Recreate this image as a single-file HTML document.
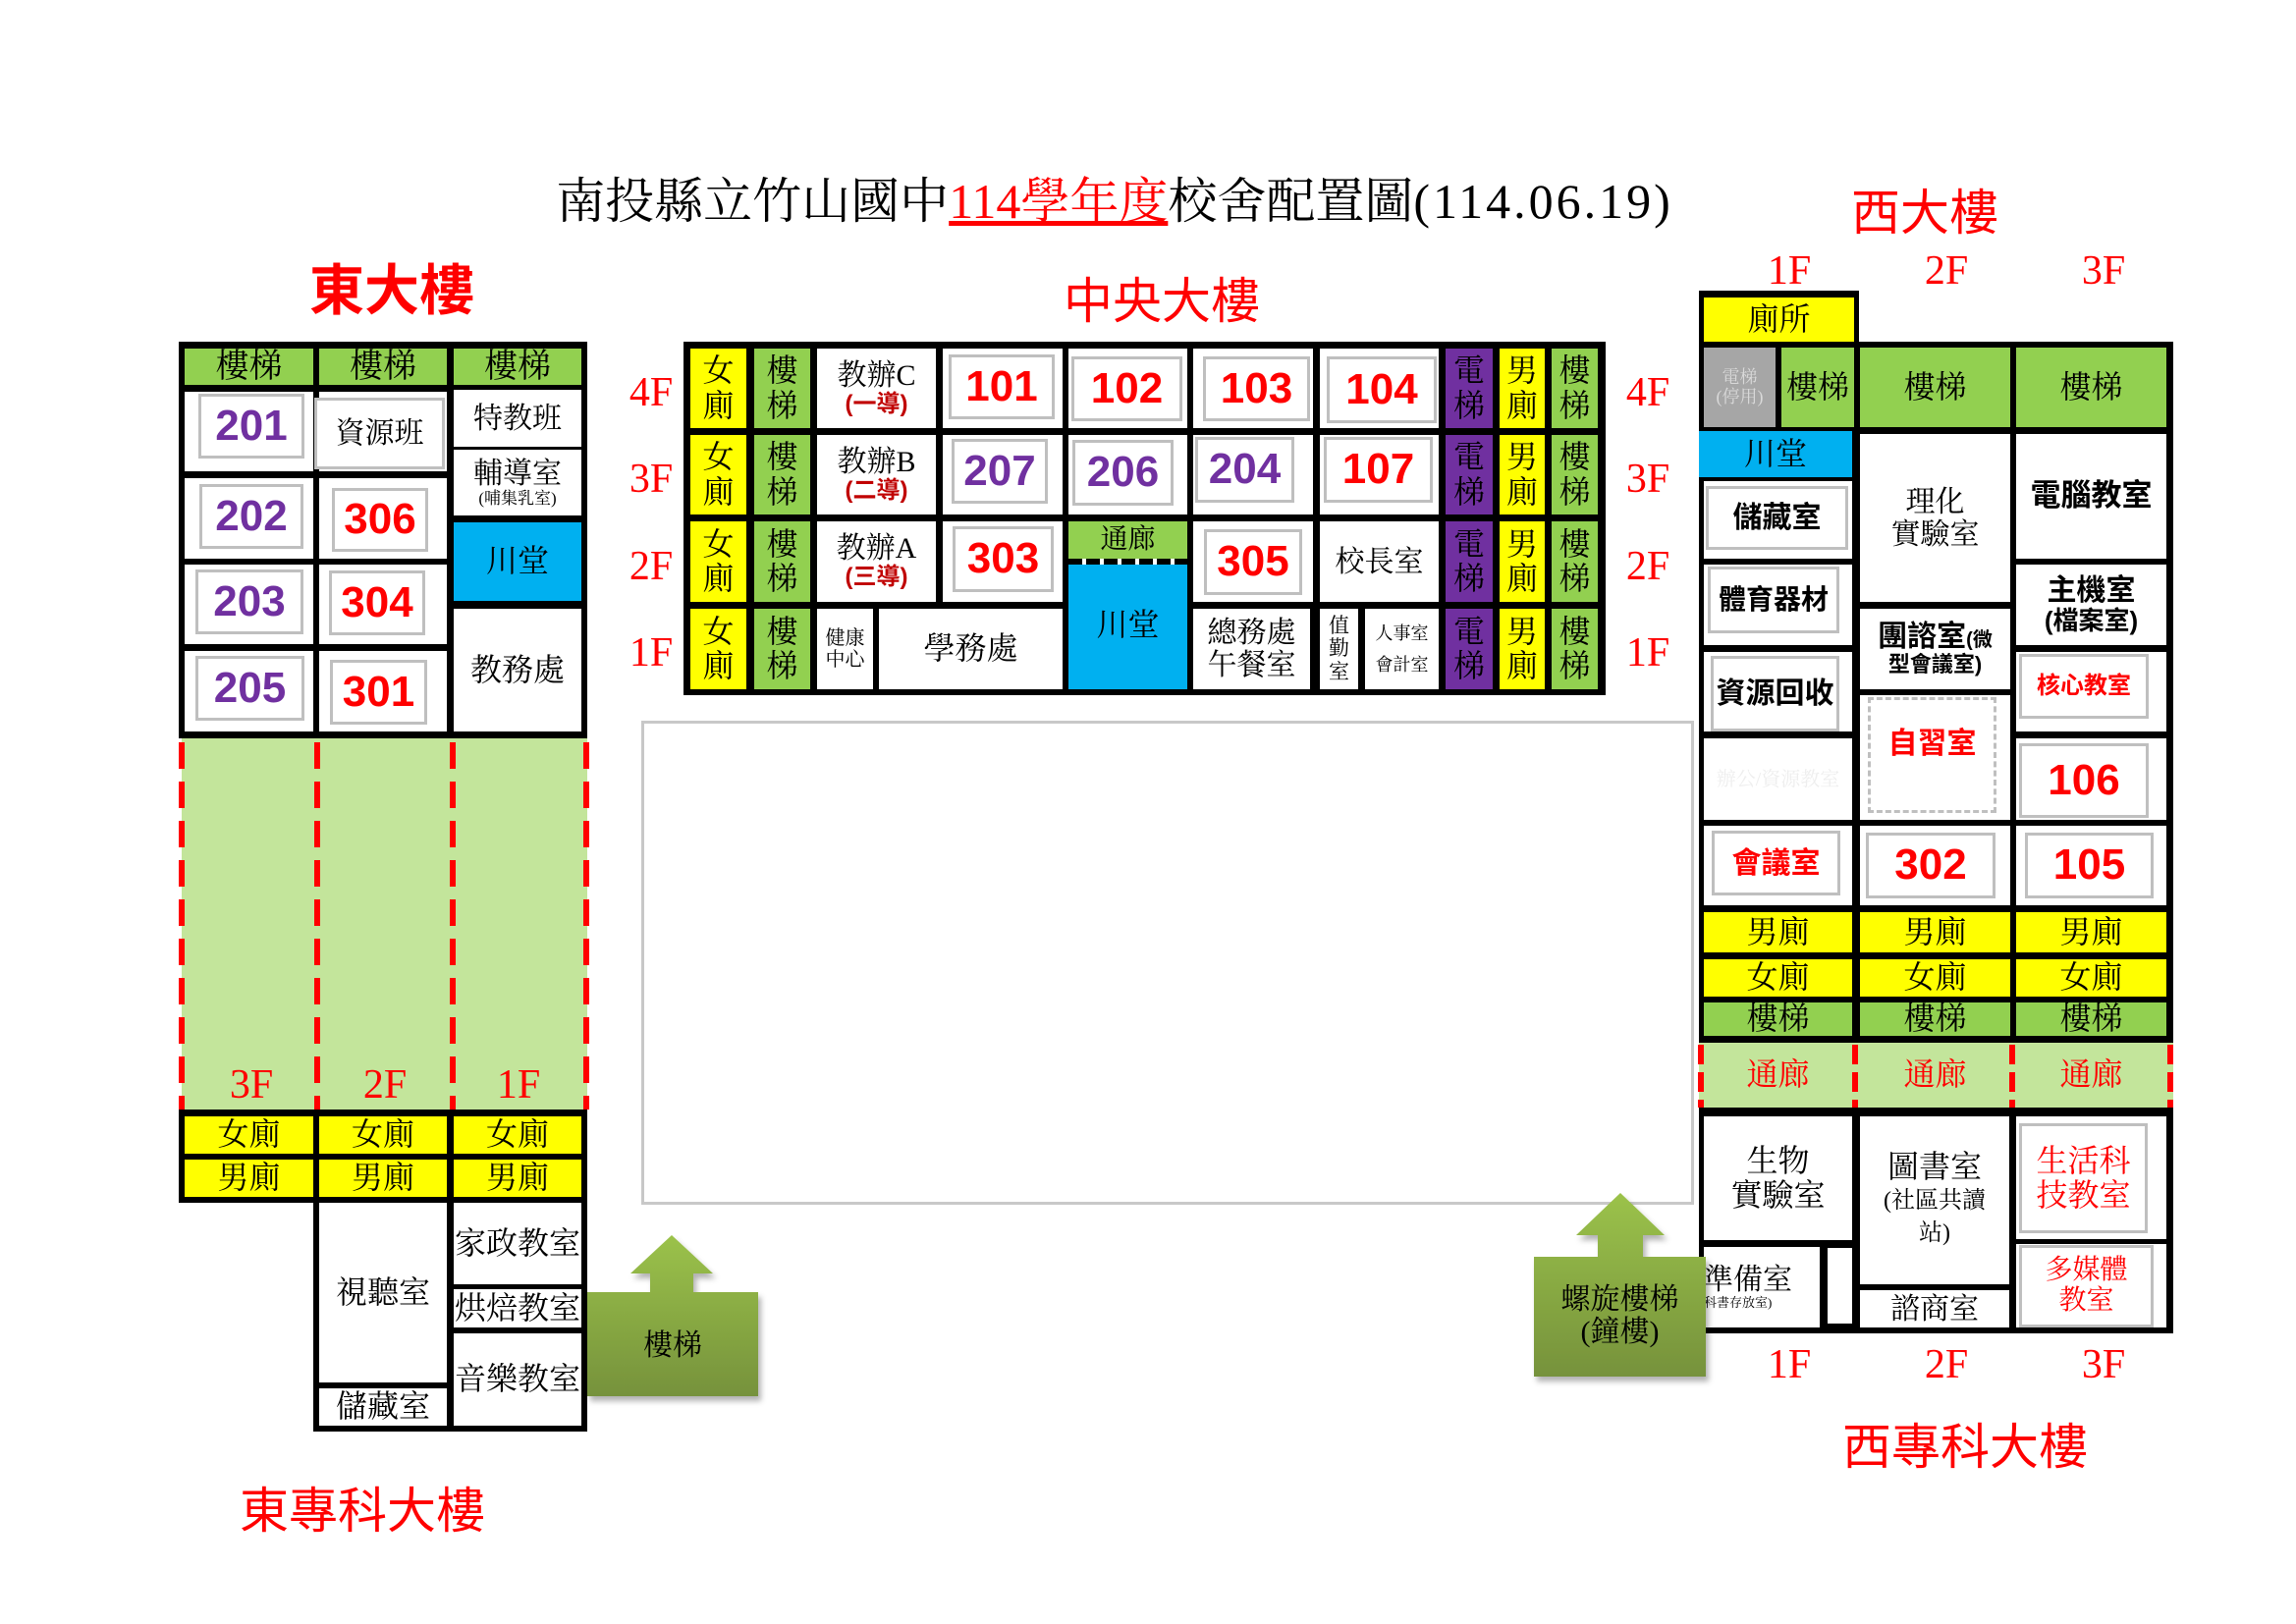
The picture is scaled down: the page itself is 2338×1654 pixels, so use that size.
<!DOCTYPE html>
<html><head><meta charset="utf-8"><style>
body{margin:0;background:#fff}
#p{position:relative;width:2338px;height:1654px;overflow:hidden;background:#fff}
.a{position:absolute;display:flex;flex-direction:column;align-items:center;justify-content:center;text-align:center;font-family:"Liberation Serif","Noto Serif CJK SC",serif;line-height:1.1;color:#000;box-sizing:border-box;white-space:nowrap}
.k{position:absolute;background:#000}
.g{background:#92d050}.y{background:#ffff00}.bl{background:#00b0f0}.pu{background:#7030a0}.w{background:#fff}.lg{background:#c3e59b}
.bx{border:3px solid #bfbfbf}
.n{font-family:"Liberation Sans",sans-serif;font-weight:bold;font-size:44px}
.P{color:#7030a0}.R{color:#ff0000}
.bd{font-family:"Liberation Sans","Noto Sans CJK SC",sans-serif;font-weight:bold}
.lab{position:absolute;font-family:"Liberation Sans","Noto Sans CJK SC",sans-serif;color:#ff0000;font-size:50px;font-weight:bold;transform:translate(-50%,-50%);white-space:nowrap}
.fl{position:absolute;font-family:"Liberation Serif",serif;color:#ff0000;font-size:42px;transform:translate(-50%,-50%)}
.dv{position:absolute;width:6px;background:repeating-linear-gradient(#ff0000 0 27px,transparent 27px 40px)}
</style></head><body><div id="p">

<div class="a" style="left:560px;top:175px;width:1150px;height:60px;font-size:50px;flex-direction:row">南投縣立竹山國中<span style="color:#ff0000;text-decoration:underline">114學年度</span>校舍配置圖<span style="letter-spacing:3px">(114.06.19)</span></div>
<div class="lab" style="left:399px;top:292px;font-size:56px">東大樓</div>
<div class="lab" style="left:1183px;top:303px;font-weight:normal">中央大樓</div>
<div class="lab" style="left:1960px;top:213px;font-weight:normal">西大樓</div>
<div class="lab" style="left:369px;top:1535px;font-weight:normal">東專科大樓</div>
<div class="lab" style="left:2001px;top:1470px;font-weight:normal">西專科大樓</div>

<!-- EAST -->
<div class="k" style="left:182px;top:348px;width:416px;height:404px"></div>
<div class="a g" style="left:188px;top:355px;width:131px;height:37px;font-size:34px">樓梯</div>
<div class="a g" style="left:325px;top:355px;width:130px;height:37px;font-size:34px">樓梯</div>
<div class="a g" style="left:462px;top:355px;width:130px;height:37px;font-size:34px">樓梯</div>
<div class="a w" style="left:188px;top:399px;width:131px;height:81px"></div>
<div class="a bx n P" style="left:202px;top:401px;width:108px;height:66px">201</div>
<div class="a w" style="left:325px;top:399px;width:130px;height:81px"></div>
<div class="a bx w" style="left:320px;top:405px;width:133px;height:73px;font-size:30px">資源班</div>
<div class="a w" style="left:462px;top:397px;width:130px;height:58px;font-size:30px">特教班</div>
<div class="a w" style="left:462px;top:458px;width:130px;height:67px;font-size:30px">輔導室<span style="font-size:17px">(哺集乳室)</span></div>
<div class="a bl" style="left:462px;top:532px;width:130px;height:80px;font-size:32px">川堂</div>
<div class="a w" style="left:462px;top:620px;width:130px;height:125px;font-size:32px">教務處</div>
<div class="a w" style="left:188px;top:487px;width:131px;height:82px"></div>
<div class="a bx n P" style="left:203px;top:493px;width:106px;height:66px">202</div>
<div class="a w" style="left:325px;top:487px;width:130px;height:82px"></div>
<div class="a bx n R" style="left:338px;top:497px;width:98px;height:65px">306</div>
<div class="a w" style="left:188px;top:575px;width:131px;height:81px"></div>
<div class="a bx n P" style="left:199px;top:580px;width:110px;height:66px">203</div>
<div class="a w" style="left:325px;top:575px;width:130px;height:81px"></div>
<div class="a bx n R" style="left:335px;top:581px;width:98px;height:66px">304</div>
<div class="a w" style="left:188px;top:663px;width:131px;height:82px"></div>
<div class="a bx n P" style="left:199px;top:668px;width:111px;height:66px">205</div>
<div class="a w" style="left:325px;top:663px;width:130px;height:82px"></div>
<div class="a bx n R" style="left:336px;top:672px;width:99px;height:66px">301</div>

<div class="lg" style="position:absolute;left:185px;top:752px;width:413px;height:378px"></div>
<div class="dv" style="left:182px;top:756px;height:374px"></div>
<div class="dv" style="left:320px;top:756px;height:374px"></div>
<div class="dv" style="left:458px;top:756px;height:374px"></div>
<div class="dv" style="left:594px;top:756px;height:374px"></div>
<div class="fl" style="left:256px;top:1105px">3F</div>
<div class="fl" style="left:392px;top:1105px">2F</div>
<div class="fl" style="left:528px;top:1105px">1F</div>

<div class="k" style="left:182px;top:1130px;width:416px;height:95px"></div>
<div class="a y" style="left:188px;top:1137px;width:131px;height:38px;font-size:32px">女廁</div>
<div class="a y" style="left:325px;top:1137px;width:130px;height:38px;font-size:32px">女廁</div>
<div class="a y" style="left:462px;top:1137px;width:130px;height:38px;font-size:32px">女廁</div>
<div class="a y" style="left:188px;top:1181px;width:131px;height:38px;font-size:32px">男廁</div>
<div class="a y" style="left:325px;top:1181px;width:130px;height:38px;font-size:32px">男廁</div>
<div class="a y" style="left:462px;top:1181px;width:130px;height:38px;font-size:32px">男廁</div>
<div class="k" style="left:319px;top:1225px;width:279px;height:233px"></div>
<div class="a w" style="left:325px;top:1225px;width:130px;height:183px;font-size:32px">視聽室</div>
<div class="a w" style="left:325px;top:1414px;width:130px;height:38px;font-size:32px">儲藏室</div>
<div class="a w" style="left:462px;top:1225px;width:130px;height:83px;font-size:32px">家政教室</div>
<div class="a w" style="left:462px;top:1313px;width:130px;height:39px;font-size:32px">烘焙教室</div>
<div class="a w" style="left:462px;top:1358px;width:130px;height:94px;font-size:32px">音樂教室</div>

<svg style="position:absolute;left:0;top:0" width="2338" height="1654">
<defs><linearGradient id="gg" x1="0" y1="0" x2="0" y2="1"><stop offset="0" stop-color="#9bc24a"/><stop offset="1" stop-color="#76923c"/></linearGradient>
<filter id="sh"><feDropShadow dx="3" dy="5" stdDeviation="3" flood-color="#000" flood-opacity="0.3"/></filter></defs>
<g filter="url(#sh)" fill="url(#gg)">
<polygon points="684,1258 726,1297 706,1297 706,1316 772,1316 772,1422 598,1422 598,1316 662,1316 662,1297 642,1297"/>
</g>
</svg>
<div class="a" style="left:598px;top:1330px;width:174px;height:80px;font-size:30px">樓梯</div>

<!-- CENTER -->
<div style="position:absolute;left:653px;top:734px;width:1072px;height:493px;border:3px solid #c8c8c8;box-sizing:border-box"></div>
<div class="k" style="left:696px;top:348px;width:939px;height:360px"></div>
<div class="a y" style="left:703px;top:355px;width:57px;height:81px;font-size:32px">女<br>廁</div>
<div class="a y" style="left:703px;top:443px;width:57px;height:81px;font-size:32px">女<br>廁</div>
<div class="a y" style="left:703px;top:531px;width:57px;height:82px;font-size:32px">女<br>廁</div>
<div class="a y" style="left:703px;top:620px;width:57px;height:82px;font-size:32px">女<br>廁</div>
<div class="a g" style="left:768px;top:355px;width:57px;height:81px;font-size:32px">樓<br>梯</div>
<div class="a g" style="left:768px;top:443px;width:57px;height:81px;font-size:32px">樓<br>梯</div>
<div class="a g" style="left:768px;top:531px;width:57px;height:82px;font-size:32px">樓<br>梯</div>
<div class="a g" style="left:768px;top:620px;width:57px;height:82px;font-size:32px">樓<br>梯</div>
<div class="a w" style="left:832px;top:355px;width:121px;height:81px;font-size:30px">教辦C<span class="bd" style="color:#c00000;font-size:24px">(一導)</span></div>
<div class="a w" style="left:832px;top:443px;width:121px;height:81px;font-size:30px">教辦B<span class="bd" style="color:#c00000;font-size:24px">(二導)</span></div>
<div class="a w" style="left:832px;top:531px;width:121px;height:82px;font-size:30px">教辦A<span class="bd" style="color:#c00000;font-size:24px">(三導)</span></div>
<div class="a w" style="left:832px;top:620px;width:57px;height:82px;font-size:20px">健康<br>中心</div>
<div class="a w" style="left:895px;top:620px;width:187px;height:82px;font-size:32px">學務處</div>
<div class="a w" style="left:960px;top:355px;width:122px;height:81px"></div>
<div class="a bx n R" style="left:966px;top:361px;width:108px;height:66px">101</div>
<div class="a w" style="left:1088px;top:355px;width:121px;height:81px"></div>
<div class="a bx n R" style="left:1091px;top:363px;width:113px;height:66px">102</div>
<div class="a w" style="left:1215px;top:355px;width:122px;height:81px"></div>
<div class="a bx n R" style="left:1225px;top:363px;width:109px;height:66px">103</div>
<div class="a w" style="left:1344px;top:355px;width:121px;height:81px"></div>
<div class="a bx n R" style="left:1351px;top:363px;width:112px;height:68px">104</div>
<div class="a w" style="left:960px;top:443px;width:122px;height:81px"></div>
<div class="a bx n P" style="left:969px;top:447px;width:98px;height:66px">207</div>
<div class="a w" style="left:1088px;top:443px;width:121px;height:81px"></div>
<div class="a bx n P" style="left:1092px;top:448px;width:103px;height:67px">206</div>
<div class="a w" style="left:1215px;top:443px;width:122px;height:81px"></div>
<div class="a bx n P" style="left:1217px;top:445px;width:101px;height:67px">204</div>
<div class="a w" style="left:1344px;top:443px;width:121px;height:81px"></div>
<div class="a bx n R" style="left:1348px;top:445px;width:111px;height:67px">107</div>
<div class="a w" style="left:960px;top:531px;width:122px;height:82px"></div>
<div class="a bx n R" style="left:970px;top:536px;width:103px;height:67px">303</div>
<div class="a g" style="left:1088px;top:531px;width:121px;height:39px;font-size:28px">通廊</div>
<div style="position:absolute;left:1088px;top:569px;width:121px;height:6px;background:repeating-linear-gradient(90deg,#000 0 14px,#fff 14px 18px)"></div>
<div class="a bl" style="left:1088px;top:575px;width:121px;height:127px;font-size:32px;justify-content:flex-start;padding-top:44px">川堂</div>
<div class="a w" style="left:1215px;top:531px;width:122px;height:82px"></div>
<div class="a bx n R" style="left:1226px;top:539px;width:100px;height:67px">305</div>
<div class="a w" style="left:1344px;top:531px;width:121px;height:82px;font-size:30px">校長室</div>
<div class="a w" style="left:1215px;top:620px;width:119px;height:82px;font-size:30px">總務處<br>午餐室</div>
<div class="a w" style="left:1344px;top:620px;width:39px;height:82px;font-size:21px">值<br>勤<br>室</div>
<div class="a w" style="left:1390px;top:620px;width:75px;height:82px;font-size:18px;line-height:1.8">人事室<br>會計室</div>
<div class="a pu" style="left:1472px;top:355px;width:48px;height:81px;font-size:32px">電<br>梯</div>
<div class="a pu" style="left:1472px;top:443px;width:48px;height:81px;font-size:32px">電<br>梯</div>
<div class="a pu" style="left:1472px;top:531px;width:48px;height:82px;font-size:32px">電<br>梯</div>
<div class="a pu" style="left:1472px;top:620px;width:48px;height:82px;font-size:32px">電<br>梯</div>
<div class="a y" style="left:1527px;top:355px;width:46px;height:81px;font-size:32px">男<br>廁</div>
<div class="a y" style="left:1527px;top:443px;width:46px;height:81px;font-size:32px">男<br>廁</div>
<div class="a y" style="left:1527px;top:531px;width:46px;height:82px;font-size:32px">男<br>廁</div>
<div class="a y" style="left:1527px;top:620px;width:46px;height:82px;font-size:32px">男<br>廁</div>
<div class="a g" style="left:1580px;top:355px;width:47px;height:81px;font-size:32px">樓<br>梯</div>
<div class="a g" style="left:1580px;top:443px;width:47px;height:81px;font-size:32px">樓<br>梯</div>
<div class="a g" style="left:1580px;top:531px;width:47px;height:82px;font-size:32px">樓<br>梯</div>
<div class="a g" style="left:1580px;top:620px;width:47px;height:82px;font-size:32px">樓<br>梯</div>
<div class="fl" style="left:663px;top:400px">4F</div>
<div class="fl" style="left:663px;top:488px">3F</div>
<div class="fl" style="left:663px;top:577px">2F</div>
<div class="fl" style="left:663px;top:665px">1F</div>
<div class="fl" style="left:1678px;top:400px">4F</div>
<div class="fl" style="left:1678px;top:488px">3F</div>
<div class="fl" style="left:1678px;top:577px">2F</div>
<div class="fl" style="left:1678px;top:665px">1F</div>

<!-- WEST -->
<div class="fl" style="left:1822px;top:276px">1F</div>
<div class="fl" style="left:1982px;top:276px">2F</div>
<div class="fl" style="left:2142px;top:276px">3F</div>
<div class="fl" style="left:1822px;top:1390px">1F</div>
<div class="fl" style="left:1982px;top:1390px">2F</div>
<div class="fl" style="left:2142px;top:1390px">3F</div>
<div class="k" style="left:1730px;top:296px;width:163px;height:52px"></div>
<div class="a y" style="left:1735px;top:303px;width:153px;height:45px;font-size:32px">廁所</div>
<div class="k" style="left:1730px;top:348px;width:483px;height:714px"></div>
<div class="a" style="left:1735px;top:354px;width:73px;height:81px;font-size:18px;background:#a6a6a6;color:#d9d9d9">電梯<br>(停用)</div>
<div class="a g" style="left:1814px;top:354px;width:74px;height:81px;font-size:32px">樓梯</div>
<div class="a g" style="left:1894px;top:354px;width:153px;height:81px;font-size:32px">樓梯</div>
<div class="a g" style="left:2053px;top:354px;width:153px;height:81px;font-size:32px">樓梯</div>
<div class="a bl" style="left:1730px;top:439px;width:156px;height:47px;font-size:32px">川堂</div>
<div class="a w" style="left:1735px;top:490px;width:151px;height:79px"></div>
<div class="a bx bd" style="left:1737px;top:495px;width:145px;height:65px;font-size:30px">儲藏室</div>
<div class="a w" style="left:1735px;top:575px;width:151px;height:82px"></div>
<div class="a bx bd" style="left:1739px;top:577px;width:134px;height:68px;font-size:28px">體育器材</div>
<div class="a w" style="left:1735px;top:664px;width:151px;height:81px"></div>
<div class="a bx bd" style="left:1742px;top:668px;width:131px;height:77px;font-size:30px">資源回收</div>
<div class="a w" style="left:1735px;top:752px;width:151px;height:83px;font-size:20px;color:#eee">辦公/資源教室</div>
<div class="a w" style="left:1735px;top:841px;width:151px;height:81px"></div>
<div class="a bx bd R" style="left:1743px;top:846px;width:131px;height:66px;font-size:30px">會議室</div>
<div class="a w" style="left:1894px;top:442px;width:153px;height:171px;font-size:30px">理化<br>實驗室</div>
<div class="a w bd" style="left:1894px;top:620px;width:153px;height:82px;font-size:30px"><span>團諮室<span style="font-size:20px">(微</span></span><span style="font-size:22px">型會議室)</span></div>
<div class="a w" style="left:1894px;top:708px;width:153px;height:127px"></div>
<div class="a bd R" style="left:1902px;top:710px;width:131px;height:118px;font-size:30px;border:3px dashed #bfbfbf;justify-content:flex-start;padding-top:28px">自習室</div>
<div class="a w" style="left:1894px;top:841px;width:153px;height:81px"></div>
<div class="a bx n R" style="left:1900px;top:848px;width:132px;height:67px">302</div>
<div class="a w bd" style="left:2053px;top:442px;width:153px;height:127px;font-size:31px">電腦教室</div>
<div class="a w bd" style="left:2053px;top:575px;width:153px;height:82px;font-size:30px">主機室<span style="font-size:26px">(檔案室)</span></div>
<div class="a w" style="left:2053px;top:664px;width:153px;height:81px"></div>
<div class="a bx bd R" style="left:2056px;top:666px;width:132px;height:66px;font-size:24px">核心教室</div>
<div class="a w" style="left:2053px;top:752px;width:153px;height:83px"></div>
<div class="a bx n R" style="left:2056px;top:757px;width:132px;height:76px">106</div>
<div class="a w" style="left:2053px;top:841px;width:153px;height:81px"></div>
<div class="a bx n R" style="left:2062px;top:848px;width:131px;height:67px">105</div>
<div class="a y" style="left:1735px;top:929px;width:151px;height:41px;font-size:32px">男廁</div>
<div class="a y" style="left:1894px;top:929px;width:153px;height:41px;font-size:32px">男廁</div>
<div class="a y" style="left:2053px;top:929px;width:153px;height:41px;font-size:32px">男廁</div>
<div class="a y" style="left:1735px;top:977px;width:151px;height:38px;font-size:32px">女廁</div>
<div class="a y" style="left:1894px;top:977px;width:153px;height:38px;font-size:32px">女廁</div>
<div class="a y" style="left:2053px;top:977px;width:153px;height:38px;font-size:32px">女廁</div>
<div class="a g" style="left:1735px;top:1021px;width:151px;height:34px;font-size:32px">樓梯</div>
<div class="a g" style="left:1894px;top:1021px;width:153px;height:34px;font-size:32px">樓梯</div>
<div class="a g" style="left:2053px;top:1021px;width:153px;height:34px;font-size:32px">樓梯</div>
<div class="lg" style="position:absolute;left:1730px;top:1062px;width:483px;height:66px"></div>
<div class="dv" style="left:1729px;top:1064px;height:64px;background:repeating-linear-gradient(#ff0000 0 20px,transparent 20px 28px)"></div>
<div class="dv" style="left:1886px;top:1064px;height:64px;background:repeating-linear-gradient(#ff0000 0 20px,transparent 20px 28px)"></div>
<div class="dv" style="left:2046px;top:1064px;height:64px;background:repeating-linear-gradient(#ff0000 0 20px,transparent 20px 28px)"></div>
<div class="dv" style="left:2207px;top:1064px;height:64px;background:repeating-linear-gradient(#ff0000 0 20px,transparent 20px 28px)"></div>
<div class="a R" style="left:1735px;top:1062px;width:151px;height:66px;font-size:32px">通廊</div>
<div class="a R" style="left:1894px;top:1062px;width:153px;height:66px;font-size:32px">通廊</div>
<div class="a R" style="left:2053px;top:1062px;width:153px;height:66px;font-size:32px">通廊</div>
<div class="k" style="left:1730px;top:1128px;width:483px;height:230px"></div>
<div class="a w" style="left:1735px;top:1137px;width:151px;height:126px;font-size:32px">生物<br>實驗室</div>
<div class="a w" style="left:1735px;top:1270px;width:118px;height:82px;font-size:30px;align-items:flex-start">準備室<span style="font-size:13px">科書存放室)</span></div>
<div class="a w" style="left:1861px;top:1271px;width:25px;height:77px"></div>
<div class="a w" style="left:1894px;top:1137px;width:152px;height:171px;font-size:32px">圖書室<span style="font-size:24px;line-height:1.4">(社區共讀<br>站)</span></div>
<div class="a w" style="left:1894px;top:1314px;width:152px;height:38px;font-size:30px">諮商室</div>
<div class="a w" style="left:2053px;top:1137px;width:153px;height:215px"></div>
<div class="k" style="left:2053px;top:1262px;width:153px;height:5px"></div>
<div class="a bx R" style="left:2056px;top:1144px;width:131px;height:112px;font-size:32px">生活科<br>技教室</div>
<div class="a bx R" style="left:2056px;top:1268px;width:137px;height:84px;font-size:28px">多媒體<br>教室</div>

<svg style="position:absolute;left:0;top:0" width="2338" height="1654">
<g filter="url(#sh)" fill="url(#gg)">
<polygon points="1650,1215 1695,1258 1673,1258 1673,1280 1737,1280 1737,1402 1562,1402 1562,1280 1627,1280 1627,1258 1605,1258"/>
</g>
</svg>
<div class="a" style="left:1562px;top:1290px;width:175px;height:100px;font-size:30px">螺旋樓梯<br>(鐘樓)</div>

</div></body></html>
